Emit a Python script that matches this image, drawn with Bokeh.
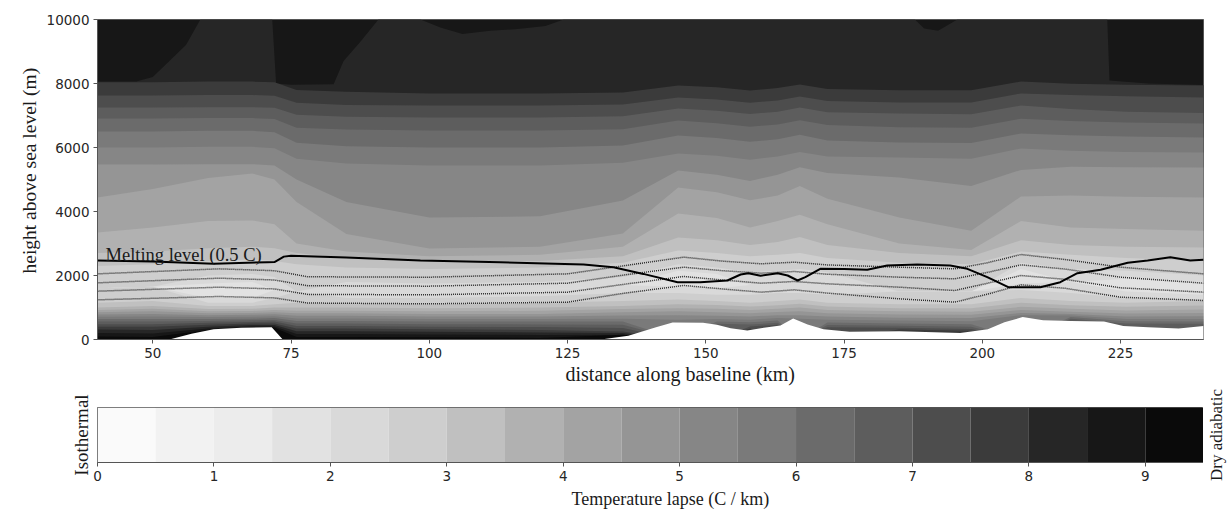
import math
from bokeh.plotting import figure
from bokeh.models import Range1d, FixedTicker, Label, Title
from bokeh.layouts import column, row
from bokeh.embed import file_html
from bokeh.resources import INLINE

# ---------------- data ----------------
levels = [0, 0.5, 1, 1.5, 2, 2.5, 3, 3.5, 4, 4.5, 5, 5.5, 6, 6.5, 7, 7.5, 8, 8.5, 9, 9.5]
band_colors = ['#fafafa', '#f2f2f2', '#ececec', '#e2e2e2', '#d9d9d9', '#cecece', '#c0c0c0',
               '#b1b1b1', '#a3a3a3', '#959595', '#868686', '#7a7a7a', '#6b6b6b', '#5d5d5d',
               '#4d4d4d', '#3b3b3b', '#262626', '#171717', '#0a0a0a']
cbar_ticks = [0, 1, 2, 3, 4, 5, 6, 7, 8, 9]
x_ticks = [50, 75, 100, 125, 150, 175, 200, 225]
y_ticks = [0, 2000, 4000, 6000, 8000, 10000]

# heights (m) of the 8.5 C/km contour (lower edge of the darkest top areas)
top85_km = [40, 47, 50, 53, 56, 58.6, 71.6, 72.3, 75, 82.7, 84.5, 87.5, 90.8, 98.4, 102, 106, 111,
            116, 121, 124.3, 187.8, 189.5, 192, 195.5, 222.6, 223.0, 230, 240]
top85_m = [8060, 8060, 8200, 8700, 9200, 10000, 10000, 8000, 7960, 7980, 8700, 9300, 10000, 10000,
           9750, 9550, 9650, 9700, 9800, 10000, 10000, 9720, 9650, 10000, 10000, 8090, 8000, 7950]

# distance columns (km) at which contour heights were read
col_km = [40, 50, 60, 68, 72, 76, 85, 100, 120, 135, 145, 152, 158, 163, 167, 172, 185, 198, 207, 216, 226, 240]

# upper contours (lapse decreasing downward): height (m) of each level
up_8_0 = [8040, 8040, 8060, 8060, 8040, 7800, 7740, 7690, 7690, 7720, 7940, 7880, 7780, 7860, 7970, 7830, 7790, 7790, 8060, 7990, 7960, 7940]
up_7_5 = [7625, 7625, 7640, 7640, 7620, 7400, 7330, 7310, 7310, 7340, 7560, 7500, 7400, 7470, 7590, 7450, 7410, 7410, 7690, 7640, 7600, 7560]
up_7_0 = [7250, 7250, 7260, 7260, 7240, 7020, 6960, 6940, 6940, 6980, 7220, 7150, 7050, 7120, 7250, 7100, 7060, 7040, 7310, 7200, 7120, 7080]
up_6_5 = [6906, 6906, 6920, 6920, 6890, 6620, 6560, 6530, 6530, 6570, 6840, 6760, 6650, 6720, 6850, 6700, 6630, 6620, 6900, 6830, 6780, 6750]
up_6_0 = [6500, 6500, 6520, 6520, 6480, 6150, 6040, 6000, 6000, 6060, 6375, 6300, 6180, 6260, 6400, 6220, 6160, 6140, 6440, 6380, 6340, 6310]
up_5_5 = [6000, 6000, 6020, 6020, 5980, 5650, 5500, 5440, 5440, 5520, 5810, 5740, 5620, 5720, 5860, 5720, 5690, 5650, 5970, 5900, 5860, 5840]
up_5_0 = [5469, 5469, 5480, 5480, 5440, 5000, 4300, 3810, 3850, 4340, 5280, 5150, 4950, 5150, 5380, 5200, 5060, 4800, 5300, 5400, 5380, 5375]
up_4_5 = [4438, 4700, 5050, 5190, 5000, 4300, 3300, 2840, 2900, 3310, 4750, 4600, 4350, 4500, 4800, 4400, 3810, 3400, 4470, 4500, 4460, 4440]
up_4_0 = [3344, 3500, 3700, 3720, 3600, 3000, 2750, 2600, 2650, 2900, 3940, 3800, 3500, 3700, 3900, 3600, 3000, 2800, 3700, 3500, 3450, 3400]
up_3_5 = [2700, 2750, 2850, 2900, 2850, 2700, 2550, 2450, 2450, 2600, 3190, 3100, 2950, 3050, 3200, 2950, 2700, 2600, 3100, 2950, 2900, 2875]
up_3_0 = [2300, 2350, 2450, 2500, 2450, 2350, 2250, 2200, 2250, 2400, 2780, 2700, 2600, 2650, 2700, 2550, 2400, 2350, 2750, 2650, 2550, 2450]
up_2_5 = [1600, 1650, 2000, 2050, 1950, 1500, 1800, 1750, 1800, 1950, 2350, 2250, 2100, 2150, 2200, 2100, 1500, 1500, 2400, 2200, 2150, 2000]
up_2_0 = [1600, 1650, 1750, 1800, 1550, 1500, 1550, 1550, 1550, 1700, 2150, 2050, 1700, 1750, 1800, 1700, 1500, 1500, 2200, 1800, 1900, 1800]

# lower contours (lapse increasing downward to the ground): height (m) of each level
lo_2_0 = [1600, 1650, 1300, 1300, 1550, 1500, 1550, 1550, 1550, 1700, 1650, 1600, 1700, 1750, 1800, 1700, 1500, 1500, 1750, 1800, 1500, 1400]
lo_2_5 = [1600, 1650, 1150, 1150, 1300, 1500, 1300, 1300, 1350, 1450, 1450, 1400, 1400, 1450, 1450, 1400, 1500, 1500, 1550, 1450, 1300, 1250]
lo_3_0 = [1150, 1200, 1050, 1050, 1100, 1150, 1150, 1100, 1150, 1200, 1250, 1200, 1150, 1200, 1250, 1150, 1100, 1100, 1300, 1200, 1150, 1200]
lo_3_5 = [1000, 1050, 950, 960, 1000, 1000, 1000, 980, 1000, 1050, 1100, 1080, 1030, 1070, 1120, 1030, 980, 980, 1150, 1070, 1020, 1060]
lo_4_0 = [920, 960, 880, 890, 920, 900, 900, 880, 900, 950, 980, 960, 920, 960, 1000, 920, 880, 870, 1020, 960, 910, 940]
lo_4_5 = [850, 880, 820, 830, 850, 820, 820, 800, 800, 850, 880, 850, 820, 860, 880, 820, 780, 770, 920, 870, 810, 830]
lo_5_0 = [780, 800, 760, 770, 790, 740, 740, 720, 720, 750, 760, 740, 720, 760, 760, 720, 680, 670, 830, 800, 720, 730]
lo_5_5 = [710, 720, 700, 710, 730, 660, 660, 640, 640, 650, 620, 640, 620, 670, 650, 620, 590, 570, 760, 750, 640, 640]
lo_6_0 = [640, 640, 640, 650, 670, 580, 580, 560, 560, 560, 0, 560, 540, 590, 0, 530, 500, 480, 0, 700, 570, 560]
lo_6_5 = [560, 560, 580, 600, 610, 500, 500, 480, 470, 460, 0, 490, 470, 520, 0, 450, 430, 400, 0, 650, 500, 490]
lo_7_0 = [480, 480, 520, 550, 560, 420, 420, 400, 390, 360, 0, 0, 410, 460, 0, 380, 370, 330, 0, 0, 0, 0]
lo_7_5 = [400, 400, 460, 500, 500, 340, 340, 320, 300, 250, 0, 0, 340, 0, 0, 0, 310, 270, 0, 0, 0, 0]
lo_8_0 = [310, 300, 400, 450, 450, 260, 260, 240, 220, 200, 0, 0, 0, 0, 0, 0, 0, 0, 0, 0, 0, 0]
lo_8_5 = [200, 190, 340, 410, 410, 170, 170, 160, 140, 150, 0, 0, 0, 0, 0, 0, 0, 0, 0, 0, 0, 0]
lo_9_0 = [90, 80, 300, 375, 370, 80, 80, 70, 50, 150, 0, 0, 0, 0, 0, 0, 0, 0, 0, 0, 0, 0]

# terrain (white, no data)
terrain_km = [40, 53, 57, 61, 66, 71.5, 73.5, 131, 136, 141, 144, 149.5, 152, 154.5, 157.5, 160.5, 163.5,
              165.8, 168.4, 171.3, 176, 185, 196, 201, 204, 207.3, 211, 216, 222, 225.5, 230, 235.5, 240]
terrain_m = [0, 0, 180, 320, 370, 380, 0, 0, 120, 380, 530, 520, 460, 350, 280, 370, 440,
             660, 470, 320, 240, 260, 200, 320, 540, 700, 600, 580, 560, 420, 380, 340, 420]

# melting level (0.5 C)
melt_km = [40, 50, 61, 70.7, 72, 73.7, 75, 85, 98.4, 112.9, 127.9, 133.3, 138.7, 144.9, 149, 153.9, 156.3,
           157.7, 159.9, 163, 164.8, 166.6, 168, 170.7, 175, 179.2, 182.8, 188.2, 194.2, 197.3, 200.9,
           204.7, 210.5, 214.1, 217.2, 221.4, 226.3, 229.9, 234, 237.6, 240]
melt_m = [2470, 2440, 2365, 2415, 2420, 2590, 2615, 2560, 2470, 2416, 2344, 2260, 2050, 1790, 1790, 1844, 2031,
          2073, 1990, 2073, 2000, 1844, 1947, 2208, 2200, 2177, 2312, 2344, 2312, 2208, 1947,
          1635, 1635, 1790, 2073, 2177, 2396, 2470, 2573, 2470, 2490]

# dotted contour lines
dot_km = [40, 62, 72, 78, 100, 125, 135, 146, 153, 160, 166, 172, 185, 195, 201, 207, 215, 225, 240]
dot_a = [2052, 2208, 2150, 1960, 1947, 2052, 2300, 2573, 2450, 2365, 2416, 2330, 2260, 2208, 2400, 2656, 2500, 2260, 2052]
dot_b = [1771, 1917, 1860, 1680, 1667, 1760, 2010, 2260, 2150, 2073, 2125, 2040, 1947, 1896, 2100, 2333, 2200, 1947, 1760]
dot_c = [1510, 1635, 1580, 1410, 1396, 1479, 1720, 1969, 1860, 1760, 1813, 1740, 1635, 1531, 1760, 2000, 1880, 1615, 1479]
dot_d = [1240, 1344, 1300, 1140, 1115, 1167, 1440, 1688, 1580, 1479, 1552, 1450, 1271, 1167, 1420, 1708, 1600, 1323, 1219]

# ---------------- figure ----------------
SERIF = "Liberation Serif"
SANS = "DejaVu Sans"
TXT = "#1a1a1a"
EDGE = "#555555"

p = figure(width=1229, height=388, x_range=Range1d(40, 240), y_range=Range1d(0, 10000),
           output_backend="svg", toolbar_location=None,
           min_border_left=97, min_border_right=26, min_border_top=19, min_border_bottom=49)
p.xgrid.visible = False
p.ygrid.visible = False
p.background_fill_color = band_colors[17]
p.outline_line_color = EDGE
p.outline_line_width = 1

p.varea(x=top85_km, y1=0, y2=top85_m, fill_color=band_colors[16])
upper = [(8.0, up_8_0), (7.5, up_7_5), (7.0, up_7_0), (6.5, up_6_5), (6.0, up_6_0), (5.5, up_5_5),
         (5.0, up_5_0), (4.5, up_4_5), (4.0, up_4_0), (3.5, up_3_5), (3.0, up_3_0), (2.5, up_2_5),
         (2.0, up_2_0)]
for lev, hs in upper:
    p.varea(x=col_km, y1=0, y2=hs, fill_color=band_colors[levels.index(lev) - 1])

lower = [(2.0, lo_2_0), (2.5, lo_2_5), (3.0, lo_3_0), (3.5, lo_3_5), (4.0, lo_4_0), (4.5, lo_4_5),
         (5.0, lo_5_0), (5.5, lo_5_5), (6.0, lo_6_0), (6.5, lo_6_5), (7.0, lo_7_0), (7.5, lo_7_5),
         (8.0, lo_8_0), (8.5, lo_8_5), (9.0, lo_9_0)]
for lev, hs in lower:
    p.varea(x=col_km, y1=0, y2=hs, fill_color=band_colors[levels.index(lev)])

p.varea(x=terrain_km, y1=0, y2=terrain_m, fill_color="white")

for ys in (dot_a, dot_b, dot_c, dot_d):
    p.line(x=dot_km, y=ys, line_color="#2a2a2a", line_width=1.5, line_dash="1 1")

p.line(x=melt_km, y=melt_m, line_color="black", line_width=2)

p.add_layout(Label(x=41.45, y=2640, text="Melting level (0.5 C)", text_font=SERIF,
                   text_font_size="18.5px", text_color=TXT, text_baseline="alphabetic",
                   text_align="left"))

for ax in (p.xaxis, p.yaxis):
    ax.major_label_text_font = SANS
    ax.major_label_text_font_size = "13.5px"
    ax.major_label_text_color = "#262626"
    ax.major_tick_out = 4
    ax.major_tick_in = 0
    ax.minor_tick_out = 0
    ax.minor_tick_in = 0
    ax.axis_line_color = EDGE
    ax.major_tick_line_color = EDGE
p.xaxis.ticker = FixedTicker(ticks=x_ticks)
p.yaxis.ticker = FixedTicker(ticks=y_ticks)
p.xaxis.major_label_standoff = 4
p.yaxis.major_label_standoff = 4
p.add_layout(Title(text="distance along baseline (km)", align="left", offset=468, standoff=1,
                   text_font=SERIF, text_font_size="20px", text_font_style="normal",
                   text_color=TXT), "below")
p.add_layout(Title(text="height above sea level (m)", align="left", offset=66, standoff=7,
                   text_font=SERIF, text_font_size="19.5px", text_font_style="normal",
                   text_color=TXT), "left")

# ---------------- colour bar ----------------
cb = figure(width=1203, height=125, x_range=Range1d(0, 9.5), y_range=Range1d(0, 1),
            output_backend="svg", toolbar_location=None,
            min_border_left=97, min_border_right=0, min_border_top=19, min_border_bottom=51)
cb.xgrid.visible = False
cb.ygrid.visible = False
cb.outline_line_color = EDGE
cb.quad(left=levels[:-1], right=levels[1:], bottom=0, top=1, fill_color=band_colors, line_color=None)
cb.xaxis.ticker = FixedTicker(ticks=cbar_ticks)
cb.xaxis.major_label_text_font = SANS
cb.xaxis.major_label_text_font_size = "13.5px"
cb.xaxis.major_label_text_color = "#262626"
cb.xaxis.major_tick_out = 4
cb.xaxis.major_tick_in = 0
cb.xaxis.minor_tick_out = 0
cb.xaxis.minor_tick_in = 0
cb.xaxis.axis_line_color = EDGE
cb.xaxis.major_tick_line_color = EDGE
cb.xaxis.major_label_standoff = 4
cb.add_layout(Title(text="Temperature lapse (C / km)", align="left", offset=474, standoff=6,
                    text_font=SERIF, text_font_size="18px", text_font_style="normal",
                    text_color=TXT), "below")

def side_label(ax, text, size):
    ax.ticker = FixedTicker(ticks=[])
    ax.axis_line_color = None
    ax.major_tick_out = 0
    ax.major_tick_in = 0
    ax.minor_tick_out = 0
    ax.minor_tick_in = 0
    ax.major_label_text_font_size = "0px"
    ax.axis_label = text
    ax.axis_label_text_font = SERIF
    ax.axis_label_text_font_size = size
    ax.axis_label_text_font_style = "normal"
    ax.axis_label_text_color = TXT

side_label(cb.yaxis[0], "Isothermal", "19px")
cb.yaxis[0].axis_label_standoff = 6

# narrow companion panel carrying the right-hand end label of the colour bar
side = figure(width=26, height=125, x_range=Range1d(0, 1), y_range=Range1d(0, 1),
              output_backend="svg", toolbar_location=None,
              min_border_left=22, min_border_right=0, min_border_top=19, min_border_bottom=50)
side.xgrid.visible = False
side.ygrid.visible = False
side.xaxis.visible = False
side.outline_line_color = None
side_label(side.yaxis[0], "Dry adiabatic", "17px")
side.yaxis[0].axis_label_standoff = 0

layout = column(p, row(cb, side))
open("out.html", "w").write(file_html(layout, INLINE))
